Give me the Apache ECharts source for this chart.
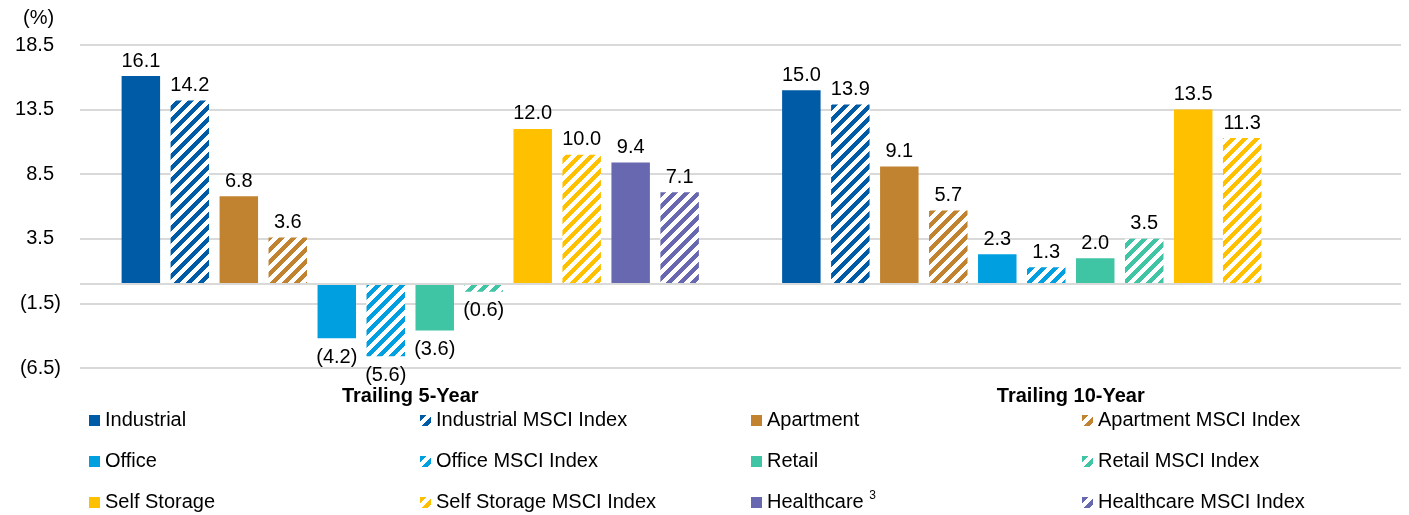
<!DOCTYPE html>
<html><head><meta charset="utf-8">
<script src="https://cdn.jsdelivr.net/npm/echarts@6/dist/echarts.min.js"></script>
<style>html,body{margin:0;padding:0;background:#fff}#c{width:1409px;height:515px}</style>
</head><body><div id="c"></div>
<script>
// ---- data ----
const categories = ['Trailing 5-Year', 'Trailing 10-Year'];
const seriesNames = ['Industrial', 'Industrial MSCI Index', 'Apartment', 'Apartment MSCI Index',
  'Office', 'Office MSCI Index', 'Retail', 'Retail MSCI Index',
  'Self Storage', 'Self Storage MSCI Index', 'Healthcare', 'Healthcare MSCI Index'];
const industrial = [16.1, 15.0];
const industrialMsci = [14.2, 13.9];
const apartment = [6.8, 9.1];
const apartmentMsci = [3.6, 5.7];
const office = [-4.2, 2.3];
const officeMsci = [-5.6, 1.3];
const retail = [-3.6, 2.0];
const retailMsci = [-0.6, 3.5];
const selfStorage = [12.0, 13.5];
const selfStorageMsci = [10.0, 11.3];
const healthcare = [9.4, null];
const healthcareMsci = [7.1, null];
const yMin = -6.5, yMax = 18.5, yStep = 5;
const unitLabel = '(%)';

// ---- styles ----
const FONT = "'Liberation Sans', Arial, sans-serif";
const palette = ['#005BA6', '#C18330', '#009FDF', '#3FC4A4', '#FFC000', '#6868B1'];

function stripes(color) {
  const n = 12;
  const c = document.createElement('canvas'); c.width = n; c.height = n;
  const g = c.getContext('2d');
  g.fillStyle = '#fff'; g.fillRect(0, 0, n, n);
  g.fillStyle = color;
  for (let y = 0; y < n; y++) for (let x = 0; x < n; x++)
    if (((x + y) % n) < 6) g.fillRect(x, y, 1, 1);
  return { image: c, repeat: 'repeat' };
}

const values = [industrial, industrialMsci, apartment, apartmentMsci, office, officeMsci,
  retail, retailMsci, selfStorage, selfStorageMsci, healthcare, healthcareMsci];

function fmt(v) { return v < 0 ? '(' + Math.abs(v).toFixed(1) + ')' : v.toFixed(1); }

const series = values.map((arr, i) => {
  const base = palette[Math.floor(i / 2)];
  const patterned = i % 2 === 1;
  const s = {
    name: seriesNames[i],
    type: 'bar',
    barGap: '27.3%',
    barCategoryGap: '12.6%',
    itemStyle: { color: patterned ? stripes(base) : base },
    data: arr.map(v => v == null ? null : {
      value: v,
      label: { position: v < 0 ? 'bottom' : 'top', distance: v < 0 ? 9 : 5 }
    }),
    label: {
      show: true, fontFamily: FONT, fontSize: 20, color: '#000',
      formatter: p => fmt(p.value)
    },
    emphasis: { disabled: true }
  };
  if (i === 0) {
    s.markLine = {
      silent: true, symbol: 'none', label: { show: false },
      lineStyle: { color: '#d9d9d9', width: 2, type: 'solid' },
      data: [{ yAxis: 0 }]
    };
  }
  return s;
});

const chart = echarts.init(document.getElementById('c'));
chart.setOption({
  animation: false,
  backgroundColor: '#fff',
  title: {
    text: unitLabel, left: 18, top: 3,
    textStyle: { fontFamily: FONT, fontSize: 20, fontWeight: 'normal', color: '#000' }
  },
  grid: { left: 80, right: 8, top: 45, bottom: 147, containLabel: false },
  xAxis: {
    type: 'category', data: categories,
    axisLine: { show: false }, axisTick: { show: false },
    axisLabel: { margin: 18, fontFamily: FONT, fontSize: 20, fontWeight: 'bold', color: '#000' }
  },
  yAxis: {
    type: 'value', min: yMin, max: yMax, interval: yStep,
    axisLine: { show: false }, axisTick: { show: false },
    splitLine: { lineStyle: { color: '#d9d9d9', width: 2 } },
    axisLabel: {
      margin: 19, fontFamily: FONT, fontSize: 20, color: '#000',
      formatter: v => v < 0 ? fmt(v) : '{p|' + v.toFixed(1) + '}',
      rich: { p: { fontFamily: FONT, fontSize: 20, color: '#000', padding: [0, 7, 0, 0] } }
    }
  },
  legend: {
    left: 89, top: 400, width: 1330, padding: 0,
    itemWidth: 11, itemHeight: 11, itemGap: 0,
    icon: 'rect',
    selectedMode: false,
    formatter: name => name === 'Healthcare' ? 'Healthcare {sup|3}' : name,
    textStyle: {
      fontFamily: FONT, fontSize: 20, color: '#000', width: 315, lineHeight: 41,
      rich: { sup: { fontFamily: FONT, fontSize: 12, color: '#000', lineHeight: 12, padding: [0, 0, 14, 0] } }
    },
    data: seriesNames
  },
  series: series
});
</script>
</body></html>
